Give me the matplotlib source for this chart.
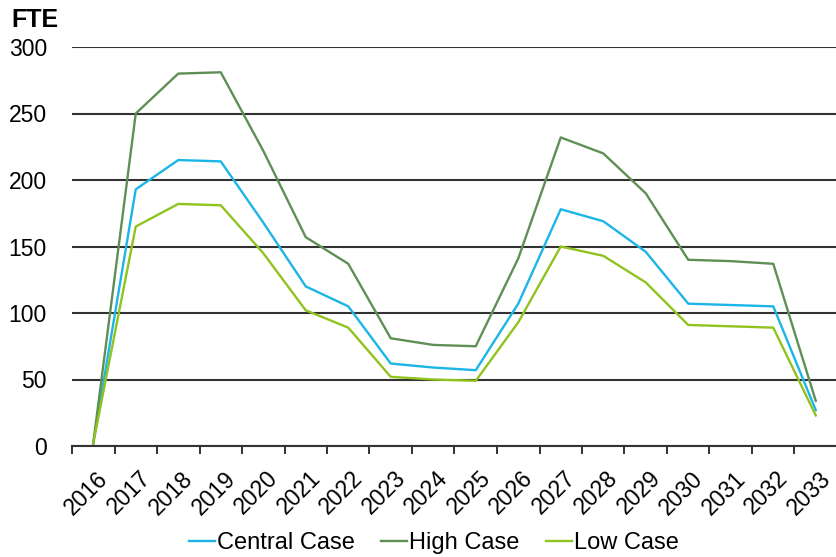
import numpy as np
import matplotlib.pyplot as plt
from matplotlib.transforms import ScaledTranslation

plt.rcParams['font.family'] = ['Liberation Sans', 'DejaVu Sans']

years = [str(y) for y in range(2016, 2034)]
central = [2, 193, 215, 214, 168, 120, 105, 62, 59, 57, 107, 178, 169, 146, 107, 106, 105, 27]
high = [2, 250, 280, 281, 222, 157, 137, 81, 76, 75, 141, 232, 220, 190, 140, 139, 137, 34]
low = [2, 165, 182, 181, 145, 102, 89, 52, 50, 49, 93, 150, 143, 123, 91, 90, 89, 23]

colors = {"central": "#1cb5e8", "high": "#5f8f55", "low": "#90c31e"}

fig = plt.figure(figsize=(8.37, 5.57), dpi=100)
ax = fig.add_axes([72 / 837, 1 - 446 / 557, 1 - 72 / 837, (446 - 47) / 557])

x = np.arange(len(years))
ax.plot(x, central, color=colors["central"], lw=1.7, label="Central Case")
ax.plot(x, high, color=colors["high"], lw=1.7, label="High Case")
ax.plot(x, low, color=colors["low"], lw=1.7, label="Low Case")

ax.set_xlim(-0.5, len(years) - 0.5)
ax.set_ylim(0, 300)
ax.set_yticks(range(0, 301, 50))
ax.yaxis.grid(True, color="#333333", lw=1.5)
ax.set_axisbelow(True)
ax.tick_params(axis="y", length=0, labelsize=16.5, pad=18)

ax.set_xticks(x)
ax.set_xticklabels(years, rotation=45, ha="right", rotation_mode="anchor", fontsize=16.5)
ax.set_xticks(np.arange(-0.5, len(years), 1), minor=True)
ax.tick_params(axis="x", which="major", length=0, pad=15)
ax.tick_params(axis="x", which="minor", length=6, width=1.4, color="#333333")
for lbl in ax.get_xticklabels():
    lbl.set_transform(lbl.get_transform() + ScaledTranslation(3 / 100, 0, fig.dpi_scale_trans))

for s in ["left", "right", "top"]:
    ax.spines[s].set_visible(False)
ax.spines["bottom"].set_color("#333333")
ax.spines["bottom"].set_linewidth(1.5)

fig.text(11 / 837, 1 - 20 / 557, "FTE", fontsize=18, fontweight="bold", va="center", ha="left")

fig.legend(loc="center", bbox_to_anchor=(434 / 837, 1 - 543 / 557), ncol=3, frameon=False,
           fontsize=17, handlelength=1.1, handletextpad=0.1, columnspacing=1.1)

fig.savefig("out.png", dpi=100)
